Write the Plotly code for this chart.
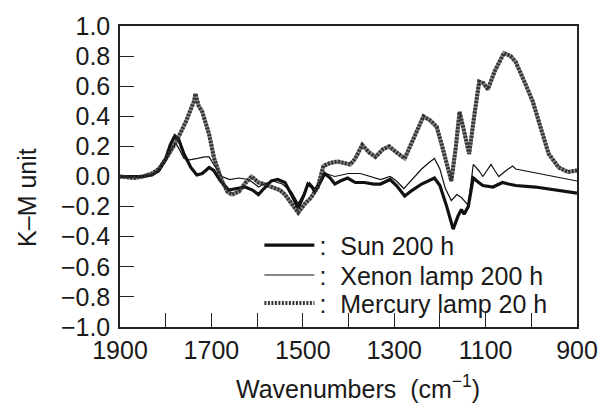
import plotly.graph_objects as go

# Sun 200 h
sun_w = [1900, 1870, 1850, 1830, 1815, 1800, 1790, 1780, 1772, 1760, 1745, 1732, 1720, 1705, 1695,
         1680, 1662, 1645, 1626, 1610, 1597, 1585, 1569, 1555, 1539, 1525, 1510, 1497, 1489, 1480,
         1474, 1462, 1452, 1440, 1430, 1418, 1402, 1385, 1365, 1345, 1330, 1309, 1295, 1277, 1260,
         1240, 1225, 1212, 1200, 1185, 1171, 1160, 1153, 1147, 1138, 1127, 1115, 1106, 1084, 1063,
         1050, 1034, 991, 950, 900]
sun_v = [0.0, 0.0, 0.0, 0.01, 0.04, 0.12, 0.21, 0.27, 0.25, 0.15, 0.06, 0.01, 0.02, 0.06, 0.04,
         -0.03, -0.09, -0.08, -0.07, -0.09, -0.12, -0.08, -0.03, -0.02, -0.04, -0.12, -0.21, -0.12, -0.05, -0.07,
         -0.10, -0.04, 0.02, -0.01, -0.05, -0.03, -0.01, -0.04, -0.04, -0.05, -0.05, -0.02, -0.06, -0.13, -0.09,
         -0.05, -0.03, -0.01, -0.06, -0.20, -0.35, -0.26, -0.22, -0.25, -0.20, -0.01, -0.04, -0.06, -0.07, -0.04,
         -0.05, -0.06, -0.07, -0.09, -0.11]

# Xenon lamp 200 h
xen_w = [1900, 1850, 1830, 1815, 1800, 1788, 1778, 1770, 1760, 1748, 1730, 1715, 1705, 1695, 1677,
         1660, 1640, 1619, 1605, 1597, 1585, 1565, 1545, 1525, 1510, 1495, 1485, 1474, 1462, 1450,
         1430, 1400, 1374, 1350, 1330, 1309, 1295, 1279, 1260, 1240, 1225, 1212, 1200, 1188, 1175,
         1163, 1153, 1138, 1127, 1115, 1106, 1097, 1088, 1080, 1071, 1055, 1041, 1034, 1000, 950, 900]
xen_v = [0.0, 0.0, 0.01, 0.03, 0.10, 0.18, 0.22, 0.18, 0.12, 0.11, 0.12, 0.13, 0.13, 0.08, 0.0,
         -0.02, -0.01, -0.02, -0.05, -0.07, -0.05, -0.03, -0.05, -0.10, -0.18, -0.10, -0.04, -0.08, -0.03, 0.02,
         0.0, 0.02, 0.02, 0.0, -0.02, 0.0, -0.03, -0.08, -0.02, 0.05, 0.09, 0.12, 0.05, -0.08, -0.16,
         -0.12, -0.14, -0.19, 0.08, 0.04, 0.0, 0.04, 0.08, 0.04, 0.0, 0.04, 0.07, 0.05, 0.03, 0.0, -0.03]

# Mercury lamp 20 h
mer_w = [1900, 1870, 1850, 1830, 1815, 1799, 1777, 1755, 1742, 1738, 1735, 1728, 1720, 1705, 1694,
         1677, 1665, 1655, 1640, 1625, 1612, 1597, 1585, 1569, 1550, 1539, 1525, 1510, 1495, 1482,
         1467, 1455, 1440, 1424, 1410, 1396, 1385, 1370, 1355, 1341, 1325, 1311, 1295, 1277, 1258,
         1245, 1236, 1220, 1207, 1195, 1185, 1175, 1165, 1157, 1147, 1136, 1125, 1114, 1105, 1095,
         1080, 1060, 1045, 1034, 1015, 997, 980, 962, 940, 920, 900]
mer_v = [0.0, -0.01, 0.0, 0.02, 0.05, 0.12, 0.23, 0.37, 0.47, 0.50, 0.55, 0.47, 0.43, 0.28, 0.12,
         -0.03, -0.10, -0.12, -0.10, -0.04, 0.0, -0.04, -0.05, -0.07, -0.09, -0.12, -0.18, -0.24, -0.18, -0.14,
         -0.07, 0.07, 0.09, 0.10, 0.09, 0.08, 0.12, 0.21, 0.16, 0.13, 0.18, 0.20, 0.16, 0.12, 0.25,
         0.34, 0.40, 0.37, 0.33, 0.20, 0.08, -0.03, 0.20, 0.43, 0.30, 0.15, 0.40, 0.63, 0.62, 0.58,
         0.70, 0.82, 0.80, 0.76, 0.63, 0.50, 0.33, 0.15, 0.06, 0.03, 0.04]

y_ticks = [-1.0, -0.8, -0.6, -0.4, -0.2, 0.0, 0.2, 0.4, 0.6, 0.8, 1.0]
x_ticks = [1900, 1700, 1500, 1300, 1100, 900]

FONT = "Liberation Sans, Arial, sans-serif"
TXT = "#1a1a1a"

fig = go.Figure()
# grey body of the mercury band (no legend)
fig.add_trace(go.Scatter(x=mer_w, y=mer_v, mode="lines", showlegend=False, hoverinfo="skip",
                         line=dict(color="#8a8a8a", width=4)))
fig.add_trace(go.Scatter(x=sun_w, y=sun_v, mode="lines", name=":  Sun 200 h", legend="legend",
                         line=dict(color="#111111", width=3.2)))
fig.add_trace(go.Scatter(x=xen_w, y=xen_v, mode="lines", name=":  Xenon lamp 200 h", legend="legend2",
                         line=dict(color="#111111", width=1.2)))
fig.add_trace(go.Scatter(x=mer_w, y=mer_v, mode="lines", name=":  Mercury lamp 20 h", legend="legend3",
                         line=dict(color="#333333", width=4, dash="2px,1.5px")))

axis_common = dict(showline=True, linecolor="#222222", linewidth=1.5, mirror=True,
                   ticks="inside", ticklen=14, tickwidth=1.2, tickcolor="#222222",
                   showgrid=False, zeroline=False,
                   tickfont=dict(family=FONT, size=25, color=TXT))

fig.update_xaxes(range=[1900, 900], tickvals=x_ticks, ticktext=[str(v) for v in x_ticks],
                 minor=dict(dtick=100, tick0=900, ticks="inside", ticklen=14, tickwidth=1.2,
                            tickcolor="#222222", showgrid=False),
                 **axis_common)
fig.update_yaxes(range=[-1.0, 1.0], tickvals=y_ticks, tickformat=".1f", ticklabelstandoff=3,
                 **axis_common)

leg = dict(x=0.305, xanchor="left", yanchor="middle", bgcolor="rgba(0,0,0,0)",
           font=dict(family=FONT, size=25, color=TXT), itemwidth=50)

fig.update_layout(
    width=610, height=406,
    margin=dict(l=120, r=25, t=24, b=79),
    paper_bgcolor="white", plot_bgcolor="white",
    font=dict(family=FONT, size=24, color=TXT),
    legend=dict(y=0.271, **leg),
    legend2=dict(y=0.172, **leg),
    legend3=dict(y=0.079, **leg),
    annotations=[
        dict(text="K–M unit", xref="paper", yref="paper", x=-0.205, y=0.43,
             xanchor="center", yanchor="middle", textangle=-90, showarrow=False,
             font=dict(family=FONT, size=25, color=TXT)),
        dict(text="Wavenumbers  (cm<sup>−1</sup>)", xref="paper", yref="paper", x=0.52, y=-0.2,
             xanchor="center", yanchor="middle", showarrow=False,
             font=dict(family=FONT, size=25, color=TXT)),
    ],
)

fig.write_html("out.html", config={"displayModeBar": False},
               post_script="document.body.style.margin='0px';")
